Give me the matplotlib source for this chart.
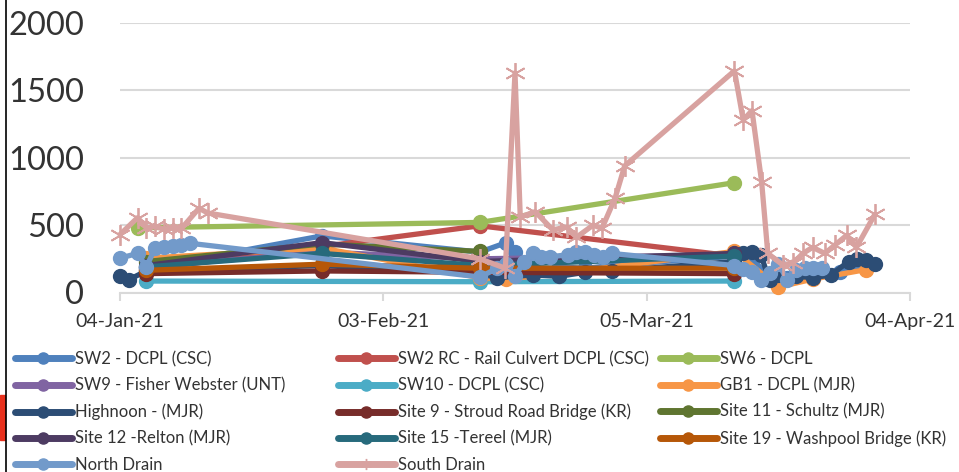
import numpy as np
import pandas as pd
import matplotlib
matplotlib.use('Agg')
import matplotlib.pyplot as plt
import matplotlib.dates as mdates
from matplotlib.lines import Line2D
from matplotlib.patches import Rectangle

plt.rcParams['font.family'] = ['Lato', 'DejaVu Sans']

# sample days counted from 04-Jan-21
start = pd.Timestamp('2021-01-04')

sw2_days = [3, 23, 41, 44, 45, 47, 50, 53, 56, 70, 72, 74, 76, 79, 82, 85]
sw2_vals = [180, 420, 300, 370, 300, 150, 190, 180, 200, 270, 260, 100, 110, 120, 150, 190]

sw2rc_days = [3, 41, 70]
sw2rc_vals = [170, 495, 270]

sw6_days = [2, 41, 70]
sw6_vals = [480, 520, 815]

sw9_days = [3, 23, 41, 70]
sw9_vals = [190, 300, 250, 280]

sw10_days = [3, 41, 70]
sw10_vals = [85, 80, 85]

gb1_days = [3, 23, 41, 44, 50, 70, 75, 79, 85]
gb1_vals = [255, 330, 110, 100, 140, 305, 40, 100, 170]

highnoon_days = [0, 1, 3, 23, 41, 43, 47, 50, 53, 56, 70, 71, 72, 73, 74, 75, 77, 79, 81, 83, 84, 85, 86]
highnoon_vals = [120, 95, 160, 200, 140, 110, 130, 120, 150, 160, 230, 290, 300, 280, 90, 130, 120, 110, 130, 230, 250, 240, 210]

site9_days = [3, 23, 41, 70]
site9_vals = [140, 160, 150, 140]

site11_days = [3, 23, 41]
site11_vals = [230, 360, 305]

site12_days = [3, 23, 41, 70]
site12_vals = [200, 370, 230, 290]

site15_days = [3, 23, 41, 70]
site15_vals = [190, 290, 200, 270]

site19_days = [3, 23, 41, 70]
site19_vals = [165, 210, 180, 180]

north_days = [0, 2, 3, 4, 5, 6, 7, 8, 41, 43, 44, 45, 46, 47, 48, 49, 51, 52, 53, 54, 55, 56,
              70, 71, 72, 73, 74, 75, 76, 77, 78, 79, 80]
north_vals = [255, 290, 190, 330, 340, 345, 350, 365, 115, 180, 210, 120, 225, 290, 265, 265, 280, 300, 300, 280, 265, 290,
              200, 175, 150, 95, 145, 215, 95, 165, 180, 180, 180]

south_days = [0, 2, 3, 4, 5, 6, 7, 9, 10, 41, 43.9, 45, 45.6, 47.3, 49.3, 50.9, 52, 53.9, 54.9, 56.4, 57.5,
              70, 71, 72, 73.1, 73.8, 75.5, 76.7, 77.8, 78.9, 80.3, 81.4, 82.8, 83.9, 86]
south_vals = [430, 555, 480, 490, 470, 480, 475, 625, 590, 250, 180, 1630, 560, 600, 465, 485, 410, 500, 475, 700, 940,
              1645, 1280, 1350, 820, 290, 205, 220, 290, 335, 290, 350, 425, 335, 580]

names = ['SW2 - DCPL (CSC)', 'SW2 RC - Rail Culvert DCPL (CSC)', 'SW6 - DCPL',
         'SW9 - Fisher Webster (UNT)', 'SW10 - DCPL (CSC)', 'GB1 - DCPL (MJR)',
         'Highnoon - (MJR)', 'Site 9 - Stroud Road Bridge (KR)', 'Site 11 - Schultz (MJR)',
         'Site 12 -Relton (MJR)', 'Site 15 -Tereel (MJR)', 'Site 19 - Washpool Bridge (KR)',
         'North Drain', 'South Drain']
days = [sw2_days, sw2rc_days, sw6_days, sw9_days, sw10_days, gb1_days, highnoon_days,
        site9_days, site11_days, site12_days, site15_days, site19_days, north_days, south_days]
vals = [sw2_vals, sw2rc_vals, sw6_vals, sw9_vals, sw10_vals, gb1_vals, highnoon_vals,
        site9_vals, site11_vals, site12_vals, site15_vals, site19_vals, north_vals, south_vals]
colors = ['#4F81BD', '#C0504D', '#9BBB59', '#8064A2', '#4BACC6', '#F79646', '#2C4D75',
          '#772C2A', '#5F7530', '#4D3B62', '#276A7C', '#B65708', '#729ACA', '#D8A2A0']

fig = plt.figure(figsize=(9.59, 4.72), dpi=100)
ax = fig.add_axes([120 / 959, 1 - 292.5 / 472, 790 / 959, 269.5 / 472])

handles = []
for i in range(len(names)):
    x = start + pd.to_timedelta(days[i], unit='D')
    if names[i] == 'South Drain':
        ax.plot(x, vals[i], color=colors[i], lw=3.8, marker=(6, 2, 0), ms=15, mew=1.3,
                solid_joinstyle='round', solid_capstyle='round', clip_on=False, zorder=3 + i)
        h = Line2D([], [], color=colors[i], lw=5, marker=(6, 2, 0), ms=8, mew=1, solid_capstyle='round')
    else:
        ax.plot(x, vals[i], color=colors[i], lw=3.8, marker='o', ms=10,
                solid_joinstyle='round', solid_capstyle='round', clip_on=False, zorder=3 + i)
        h = Line2D([], [], color=colors[i], lw=5, marker='o', ms=8, solid_capstyle='round')
    handles.append(h)

ax.set_ylim(0, 2000)
ax.set_yticks([0, 500, 1000, 1500, 2000])
ax.set_xlim(pd.Timestamp('2021-01-04'), pd.Timestamp('2021-04-04'))
ax.set_xticks(pd.to_datetime(['2021-01-04', '2021-02-03', '2021-03-05', '2021-04-04']))
ax.xaxis.set_major_formatter(mdates.DateFormatter('%d-%b-%y'))
ax.grid(axis='y', color='#D9D9D9', lw=1.5)
ax.set_axisbelow(True)
for s in ['top', 'right', 'left']:
    ax.spines[s].set_visible(False)
ax.spines['bottom'].set_color('#D9D9D9')
ax.spines['bottom'].set_linewidth(1.5)
ax.tick_params(axis='y', length=0, pad=26, labelsize=23.5, labelcolor='#333333')
ax.tick_params(axis='x', length=6, width=1.5, color='#D9D9D9', pad=9, labelsize=14, labelcolor='#333333')

# legend, three columns filled row by row
col_x = [15, 338, 660]
for c in range(3):
    idx = list(range(c, len(names), 3))
    leg = fig.legend([handles[k] for k in idx], [names[k] for k in idx],
                     loc='upper left', bbox_to_anchor=(col_x[c] / 959, 1 - 351 / 472),
                     frameon=False, fontsize=12, handlelength=3.4, handletextpad=0.2,
                     borderpad=0, borderaxespad=0, labelspacing=0.62)
    for t in leg.get_texts():
        t.set_color('#333333')

# left border of the chart frame
fig.add_artist(Line2D([5.5 / 959, 5.5 / 959], [0, 1], color='black', lw=1.2, transform=fig.transFigure))
fig.add_artist(Rectangle((0, 1 - 440 / 472), 5 / 959, 45 / 472, color='#E8301C', transform=fig.transFigure))

plt.savefig('out.png', dpi=100)
